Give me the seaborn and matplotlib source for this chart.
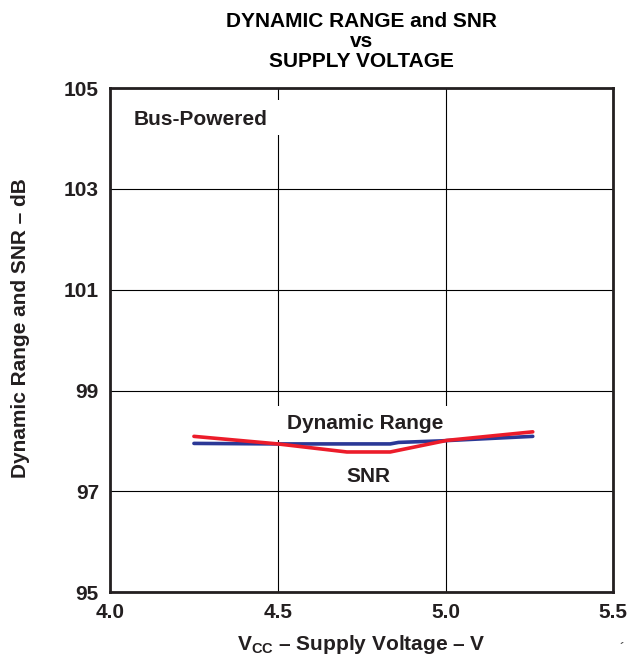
import matplotlib
matplotlib.use("Agg")
import matplotlib.pyplot as plt
from matplotlib.patches import Rectangle
import seaborn as sns
import pandas as pd

dr_v = [4.25, 4.5, 4.835, 4.86, 4.985, 5.26]
dr_db = [97.95, 97.94, 97.94, 97.97, 98.0, 98.09]
snr_v = [4.25, 4.5, 4.706, 4.835, 5.004, 5.26]
snr_db = [98.09, 97.94, 97.78, 97.78, 98.01, 98.18]

x_ticks = [4.0, 4.5, 5.0, 5.5]
x_tick_labels = ["4.0", "4.5", "5.0", "5.5"]
y_ticks = [95, 97, 99, 101, 103, 105]

sns.set_theme(style="white")
plt.rcParams['font.family'] = ['Liberation Sans', 'DejaVu Sans']
plt.rcParams['font.weight'] = 'bold'
plt.rcParams['mathtext.fontset'] = 'custom'
plt.rcParams['mathtext.rm'] = 'Liberation Sans:bold'
plt.rcParams['mathtext.bf'] = 'Liberation Sans:bold'
plt.rcParams['mathtext.it'] = 'Liberation Sans:bold'

TXT = '#231f20'
FS = 15

df = pd.concat([
    pd.DataFrame({"V": dr_v, "dB": dr_db, "series": "Dynamic Range"}),
    pd.DataFrame({"V": snr_v, "dB": snr_db, "series": "SNR"}),
])

fig = plt.figure(figsize=(6.29, 6.63), dpi=100)
ax = fig.add_axes([0.175, 0.107, 0.8, 0.76])

sns.lineplot(data=df, x="V", y="dB", hue="series",
             palette={"Dynamic Range": "#2b3896", "SNR": "#ec1c2a"},
             linewidth=2.6, legend=False, ax=ax, sort=False, estimator=None)

ax.set_xlim(4.0, 5.5)
ax.set_ylim(95, 105)
ax.set_xticks(x_ticks)
ax.set_xticklabels(x_tick_labels)
ax.set_yticks(y_ticks)
ax.tick_params(length=0, labelsize=FS, pad=8)
for lab in ax.get_xticklabels() + ax.get_yticklabels():
    lab.set_fontweight('bold')
    lab.set_color(TXT)
ax.grid(True, color='black', linewidth=0.8)
ax.set_axisbelow(True)
for s in ax.spines.values():
    s.set_color(TXT)
    s.set_linewidth(2)

ax.set_xlabel(r"V$_{\mathrm{CC}}$ – Supply Voltage – V", fontsize=FS,
              fontweight='bold', color=TXT, labelpad=8)
ax.set_ylabel("Dynamic Range and SNR – dB", fontsize=FS,
              fontweight='bold', color=TXT)
ax.yaxis.set_label_coords(-0.159, 0.524)
ax.set_title("DYNAMIC RANGE and SNR\nvs\nSUPPLY VOLTAGE", fontsize=FS,
             fontweight='bold', color='black', linespacing=1.08, pad=15)

# white masks behind the annotations (break the grid like the original)
ax.add_patch(Rectangle((0.036, 0.907), 0.326, 0.069, transform=ax.transAxes,
                       facecolor='white', edgecolor='none', zorder=1))
ax.add_patch(Rectangle((0.318, 0.302), 0.370, 0.067, transform=ax.transAxes,
                       facecolor='white', edgecolor='none', zorder=1))

ax.text(4.069, 104.27, "Bus-Powered", fontsize=FS, fontweight='bold',
        color=TXT, ha='left', va='baseline', zorder=1.5)
ax.text(4.76, 98.23, "Dynamic Range", fontsize=FS, fontweight='bold',
        color=TXT, ha='center', va='baseline', zorder=1.5)
ax.text(4.77, 97.18, "SNR", fontsize=FS, fontweight='bold',
        color=TXT, ha='center', va='baseline', zorder=1.5)

fig.text(0.992, 0.012, "´", fontsize=9, color='#555555', ha='right', va='bottom')

fig.savefig("out.png", dpi=100)
